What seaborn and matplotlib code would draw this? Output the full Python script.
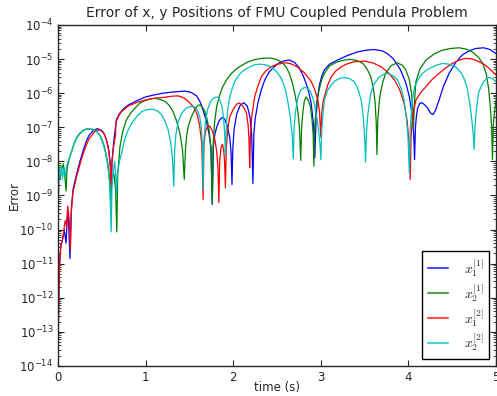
import numpy as np
import pandas as pd
import seaborn as sns
import matplotlib.pyplot as plt
from matplotlib.ticker import LogLocator, NullFormatter

# time (s) and log10(error), one pair of lists per curve
t_x1_1 = [0.0, 0.005, 0.015, 0.03, 0.05, 0.07, 0.09, 0.105, 0.115, 0.135, 0.15, 0.17, 0.21, 0.25, 0.29,
          0.32, 0.35, 0.40, 0.45, 0.50, 0.53, 0.56, 0.58, 0.595, 0.605, 0.615, 0.63, 0.645, 0.655, 0.665,
          0.70, 0.75, 0.8, 0.9, 1.0, 1.1, 1.2, 1.3, 1.446, 1.52, 1.58, 1.62, 1.655, 1.69, 1.72, 1.745,
          1.76, 1.772, 1.79, 1.81, 1.84, 1.87, 1.9, 1.93, 1.96, 1.975, 1.985, 1.995, 2.01, 2.04, 2.08,
          2.12, 2.16, 2.19, 2.21, 2.224, 2.235, 2.25, 2.28, 2.32, 2.36, 2.41, 2.47, 2.53, 2.585, 2.64,
          2.70, 2.75, 2.8, 2.85, 2.89, 2.915, 2.93, 2.945, 2.96, 2.98, 3.01, 3.04, 3.1, 3.19, 3.3, 3.42,
          3.52, 3.61, 3.7, 3.76, 3.83, 3.91, 3.97, 4.01, 4.04, 4.06, 4.07, 4.08, 4.09, 4.105, 4.13, 4.15,
          4.18, 4.22, 4.25, 4.28, 4.31, 4.35, 4.4, 4.465, 4.54, 4.615, 4.7, 4.77, 4.86, 4.93, 5.0]
log_err_x1_1 = [-13.3, -12.2, -11.0, -10.5, -10.3, -10.0, -10.4, -9.6, -9.5, -10.85, -9.4, -8.82, -8.38,
                -7.99, -7.65, -7.42, -7.25, -7.1, -7.04, -7.1, -7.22, -7.45, -7.7, -8.05, -8.7, -8.0,
                -7.55, -7.2, -7.0, -6.78, -6.6, -6.45, -6.35, -6.22, -6.11, -6.05, -6.0, -5.97, -5.94,
                -5.98, -6.08, -6.25, -6.5, -6.8, -7.15, -7.6, -9.26, -7.6, -7.2, -7.0, -6.8, -6.72,
                -6.75, -6.95, -7.3, -7.75, -8.68, -7.6, -7.05, -6.6, -6.35, -6.28, -6.38, -6.7, -7.2,
                -8.65, -7.2, -6.75, -6.3, -5.9, -5.61, -5.38, -5.22, -5.1, -5.05, -5.03, -5.1, -5.25,
                -5.5, -5.85, -6.3, -6.9, -7.9, -6.8, -6.2, -5.8, -5.5, -5.32, -5.15, -5.03, -4.9, -4.79,
                -4.74, -4.72, -4.76, -4.84, -5.0, -5.32, -5.7, -6.1, -6.6, -7.2, -7.95, -7.0, -6.7,
                -6.44, -6.3, -6.28, -6.33, -6.44, -6.58, -6.63, -6.5, -6.2, -5.8, -5.42, -5.1, -4.88,
                -4.75, -4.69, -4.67, -4.72, -4.84]

t_x2_1 = [0.0, 0.01, 0.02, 0.03, 0.045, 0.06, 0.075, 0.091, 0.1, 0.11, 0.13, 0.155, 0.18, 0.21, 0.25,
          0.29, 0.33, 0.365, 0.40, 0.44, 0.48, 0.515, 0.545, 0.57, 0.59, 0.60, 0.615, 0.635, 0.655, 0.67,
          0.68, 0.695, 0.706, 0.74, 0.78, 0.83, 0.877, 0.93, 0.99, 1.05, 1.105, 1.16, 1.22, 1.27, 1.31,
          1.35, 1.39, 1.42, 1.44, 1.455, 1.47, 1.485, 1.52, 1.56, 1.59, 1.617, 1.645, 1.674, 1.7, 1.725,
          1.745, 1.76, 1.77, 1.785, 1.81, 1.845, 1.88, 1.93, 1.98, 2.03, 2.08, 2.17, 2.24, 2.32, 2.41,
          2.48, 2.55, 2.6, 2.64, 2.68, 2.71, 2.74, 2.755, 2.77, 2.78, 2.795, 2.81, 2.83, 2.855, 2.88,
          2.9, 2.912, 2.92, 2.93, 2.95, 2.98, 3.01, 3.04, 3.1, 3.19, 3.27, 3.345, 3.42, 3.48, 3.53,
          3.57, 3.6, 3.62, 3.633, 3.64, 3.65, 3.665, 3.68, 3.71, 3.74, 3.8, 3.87, 3.93, 3.97, 4.01,
          4.035, 4.05, 4.058, 4.068, 4.085, 4.13, 4.2, 4.3, 4.39, 4.48, 4.58, 4.66, 4.73, 4.8, 4.85,
          4.89, 4.915, 4.935, 4.95, 4.96, 4.97, 4.985, 5.0]
log_err_x2_1 = [-9.3, -8.16, -8.5, -8.36, -8.2, -8.07, -8.4, -8.87, -8.3, -8.1, -7.9, -7.7, -7.5, -7.32,
                -7.18, -7.09, -7.05, -7.05, -7.07, -7.12, -7.25, -7.46, -7.75, -8.1, -8.6, -9.2, -8.5,
                -8.35, -8.8, -10.07, -8.4, -7.9, -7.56, -7.1, -6.78, -6.58, -6.44, -6.3, -6.22, -6.17,
                -6.15, -6.18, -6.24, -6.36, -6.53, -6.8, -7.17, -7.65, -8.53, -7.6, -7.2, -6.98, -6.7,
                -6.49, -6.38, -6.34, -6.4, -6.53, -6.75, -7.1, -7.6, -9.26, -7.5, -6.9, -6.39, -6.05,
                -5.81, -5.58, -5.42, -5.3, -5.21, -5.08, -5.02, -4.98, -4.97, -5.0, -5.08, -5.22, -5.42,
                -5.75, -6.1, -6.6, -7.0, -7.97, -7.0, -6.55, -6.25, -6.11, -6.2, -6.39, -6.8, -7.2,
                -8.14, -7.0, -6.3, -5.9, -5.6, -5.42, -5.2, -5.08, -5.03, -5.01, -5.05, -5.13, -5.3,
                -5.52, -5.85, -6.29, -6.9, -7.8, -6.8, -6.3, -6.0, -5.65, -5.42, -5.2, -5.11, -5.18,
                -5.32, -5.6, -6.0, -6.5, -7.0, -6.3, -5.67, -5.3, -5.03, -4.84, -4.74, -4.69, -4.67,
                -4.71, -4.79, -4.95, -5.13, -5.45, -5.85, -6.4, -7.0, -7.95, -6.9, -6.5, -6.2]

t_x1_2 = [0.0, 0.005, 0.015, 0.03, 0.05, 0.08, 0.095, 0.11, 0.125, 0.14, 0.15, 0.17, 0.21, 0.27, 0.31,
          0.35, 0.42, 0.47, 0.52, 0.55, 0.575, 0.595, 0.605, 0.615, 0.635, 0.65, 0.655, 0.66, 0.69, 0.72,
          0.8, 0.9, 1.0, 1.1, 1.22, 1.3, 1.37, 1.43, 1.485, 1.53, 1.56, 1.59, 1.617, 1.64, 1.655, 1.665,
          1.68, 1.7, 1.73, 1.76, 1.79, 1.81, 1.825, 1.835, 1.845, 1.86, 1.875, 1.89, 1.9, 1.91, 1.92,
          1.94, 1.96, 2.0, 2.04, 2.07, 2.11, 2.15, 2.17, 2.18, 2.187, 2.195, 2.21, 2.245, 2.28, 2.32,
          2.37, 2.43, 2.49, 2.55, 2.6, 2.66, 2.73, 2.81, 2.89, 2.93, 2.965, 2.985, 3.0, 3.01, 3.025,
          3.04, 3.08, 3.12, 3.17, 3.23, 3.3, 3.38, 3.5, 3.6, 3.69, 3.77, 3.84, 3.9, 3.95, 3.985, 4.005,
          4.02, 4.03, 4.045, 4.085, 4.14, 4.2, 4.27, 4.35, 4.42, 4.5, 4.58, 4.655, 4.73, 4.81, 4.89,
          4.96, 5.0]
log_err_x1_2 = [-13.5, -12.5, -11.2, -10.45, -10.3, -9.74, -9.9, -9.31, -9.7, -10.6, -9.5, -8.9, -8.45,
                -7.9, -7.6, -7.35, -7.12, -7.07, -7.16, -7.35, -7.65, -8.1, -8.72, -8.0, -7.55, -7.3,
                -7.25, -6.85, -6.68, -6.55, -6.38, -6.27, -6.2, -6.15, -6.12, -6.09, -6.08, -6.13, -6.24,
                -6.36, -6.45, -6.65, -6.97, -7.5, -9.12, -7.5, -7.15, -7.0, -6.96, -7.1, -7.37, -7.7,
                -8.2, -9.21, -8.0, -7.6, -7.5, -7.65, -8.0, -8.78, -7.6, -7.0, -6.69, -6.47, -6.32,
                -6.29, -6.38, -6.58, -6.95, -7.4, -8.19, -7.3, -6.7, -6.1, -5.8, -5.52, -5.35, -5.23,
                -5.16, -5.13, -5.11, -5.14, -5.23, -5.4, -5.66, -5.9, -6.19, -6.55, -7.3, -6.6, -6.25,
                -6.1, -5.75, -5.52, -5.35, -5.23, -5.14, -5.08, -5.06, -5.12, -5.23, -5.4, -5.61, -5.9,
                -6.29, -6.8, -7.4, -8.53, -7.3, -6.73, -6.2, -5.98, -5.81, -5.6, -5.42, -5.27, -5.13,
                -5.03, -4.98, -5.0, -5.08, -5.2, -5.37, -5.46]

t_x2_2 = [0.0, 0.01, 0.02, 0.035, 0.05, 0.065, 0.08, 0.095, 0.12, 0.155, 0.18, 0.21, 0.25, 0.29, 0.33,
          0.36, 0.40, 0.44, 0.48, 0.515, 0.545, 0.57, 0.59, 0.605, 0.615, 0.63, 0.645, 0.655, 0.665,
          0.675, 0.7, 0.725, 0.76, 0.8, 0.84, 0.9, 0.955, 1.02, 1.085, 1.14, 1.18, 1.22, 1.256, 1.285,
          1.305, 1.32, 1.33, 1.345, 1.37, 1.41, 1.46, 1.51, 1.56, 1.59, 1.617, 1.635, 1.647, 1.655,
          1.665, 1.68, 1.71, 1.74, 1.77, 1.8, 1.825, 1.85, 1.87, 1.89, 1.902, 1.91, 1.92, 1.935, 1.96,
          1.99, 2.016, 2.07, 2.12, 2.17, 2.24, 2.3, 2.37, 2.43, 2.49, 2.55, 2.59, 2.62, 2.65, 2.672,
          2.685, 2.695, 2.71, 2.74, 2.77, 2.81, 2.85, 2.88, 2.915, 2.945, 2.97, 2.99, 3.0, 3.01, 3.025,
          3.04, 3.08, 3.155, 3.22, 3.27, 3.33, 3.38, 3.42, 3.46, 3.485, 3.5, 3.51, 3.52, 3.535, 3.57,
          3.61, 3.67, 3.72, 3.76, 3.82, 3.875, 3.92, 3.95, 3.975, 3.995, 4.01, 4.02, 4.04, 4.07, 4.11,
          4.16, 4.22, 4.28, 4.33, 4.39, 4.46, 4.54, 4.6, 4.635, 4.67, 4.70, 4.725, 4.74, 4.75, 4.76,
          4.775, 4.80, 4.83, 4.86, 4.9, 4.92, 4.96, 5.0]
log_err_x2_2 = [-9.6, -8.2, -8.45, -8.15, -8.5, -8.2, -8.45, -8.15, -7.95, -7.7, -7.5, -7.3, -7.16,
                -7.08, -7.05, -7.05, -7.07, -7.12, -7.27, -7.5, -7.8, -8.2, -8.7, -10.07, -8.7, -8.3,
                -8.0, -8.3, -9.0, -8.4, -8.0, -7.76, -7.35, -7.08, -6.88, -6.68, -6.54, -6.48, -6.47,
                -6.53, -6.63, -6.82, -7.07, -7.45, -7.9, -8.73, -7.7, -7.2, -6.85, -6.6, -6.44, -6.39,
                -6.4, -6.5, -6.69, -7.0, -7.5, -8.83, -7.4, -6.85, -6.45, -6.25, -6.16, -6.12, -6.12,
                -6.22, -6.39, -6.75, -7.2, -7.85, -7.0, -6.5, -6.1, -5.85, -5.66, -5.45, -5.33, -5.25,
                -5.17, -5.15, -5.17, -5.23, -5.36, -5.57, -5.85, -6.2, -6.7, -7.2, -7.93, -7.0, -6.55,
                -6.1, -5.92, -5.83, -5.86, -5.95, -6.2, -6.58, -7.0, -7.5, -7.95, -7.1, -6.6, -6.2,
                -5.9, -5.65, -5.56, -5.54, -5.58, -5.66, -5.85, -6.2, -6.7, -7.3, -8.02, -7.2, -6.65,
                -6.0, -5.72, -5.52, -5.45, -5.42, -5.48, -5.61, -5.88, -6.2, -6.7, -7.3, -8.34, -7.1,
                -6.3, -5.81, -5.6, -5.42, -5.3, -5.23, -5.17, -5.13, -5.15, -5.23, -5.4, -5.57, -5.85,
                -6.29, -6.8, -7.2, -7.65, -7.0, -6.5, -6.0, -5.8, -5.66, -5.56, -5.54, -5.58, -5.66]

labels = [r"$x_1^{[1]}$", r"$x_2^{[1]}$", r"$x_1^{[2]}$", r"$x_2^{[2]}$"]
colors = ["#0000ff", "#008000", "#ff0000", "#00bfbf"]

sns.set_style("ticks")
plt.rcParams.update({
    "xtick.direction": "in", "ytick.direction": "in",
    "xtick.top": True, "ytick.right": True,
    "xtick.major.size": 4, "ytick.major.size": 4,
    "ytick.minor.size": 2, "xtick.minor.size": 2,
    "axes.linewidth": 1.0,
})

fig, ax = plt.subplots(figsize=(4.97, 3.96), dpi=100)
fig.subplots_adjust(left=0.117, right=0.998, top=0.937, bottom=0.076)

curves = [(t_x1_1, log_err_x1_1), (t_x2_1, log_err_x2_1), (t_x1_2, log_err_x1_2), (t_x2_2, log_err_x2_2)]
for (t, le), label, color in zip(curves, labels, colors):
    df = pd.DataFrame({"time": t, "error": 10.0 ** np.array(le)})
    sns.lineplot(data=df, x="time", y="error", color=color, lw=0.9, label=label,
                 estimator=None, sort=False, ax=ax)

ax.set_yscale("log")
ax.set_xlim(0, 5)
ax.set_ylim(1e-14, 1e-4)
ax.set_xticks([0, 1, 2, 3, 4, 5])
ax.yaxis.set_major_locator(LogLocator(base=10, numticks=20))
ax.yaxis.set_minor_locator(LogLocator(base=10, subs=np.arange(2, 10), numticks=20))
ax.yaxis.set_minor_formatter(NullFormatter())
ax.tick_params(labelsize=8.5)

ax.set_title("Error of x, y Positions of FMU Coupled Pendula Problem", fontsize=10)
ax.set_xlabel("time (s)", fontsize=8.5, labelpad=-2)
ax.set_ylabel("Error", fontsize=8.5, labelpad=-1)

leg = ax.legend(loc="lower right", prop={"size": 10, "math_fontfamily": "cm"},
                fancybox=False, edgecolor="black", framealpha=1, labelspacing=0.22,
                handlelength=1.5, handletextpad=1.1, borderpad=0.4, borderaxespad=0.5)
leg.get_frame().set_linewidth(1.0)
for line in leg.get_lines():
    line.set_linewidth(1.5)
    line.set_alpha(0.7)

fig.savefig("out.png", dpi=100)
